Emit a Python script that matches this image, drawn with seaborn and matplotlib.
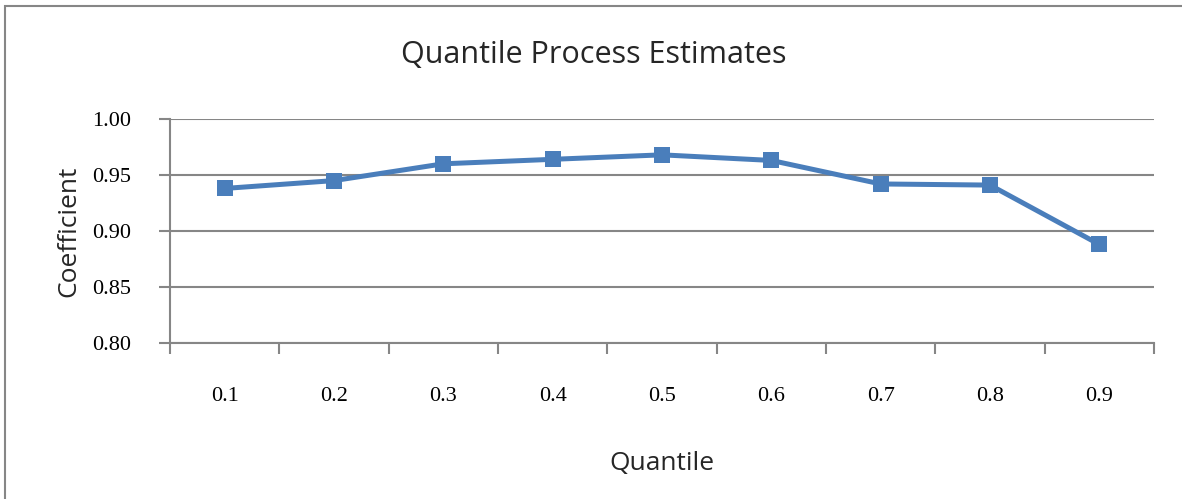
import pandas as pd
import seaborn as sns
import matplotlib.pyplot as plt
from matplotlib.patches import Rectangle

quantiles = ['0.1', '0.2', '0.3', '0.4', '0.5', '0.6', '0.7', '0.8', '0.9']
coefficients = [0.938, 0.945, 0.960, 0.964, 0.968, 0.963, 0.942, 0.941, 0.888]
y_ticks = [0.80, 0.85, 0.90, 0.95, 1.00]

df = pd.DataFrame({'Quantile': quantiles, 'Coefficient': coefficients})

sns.set_theme(style="white")
grey = '#868686'
blue = '#4A7EBB'

fig = plt.figure(figsize=(11.82, 4.99), dpi=100)
ax = fig.add_axes([170 / 1182, 1 - 343 / 499, 984 / 1182, 224 / 499])

sns.lineplot(data=df, x='Quantile', y='Coefficient', ax=ax, color=blue,
             linewidth=3.6, marker='s', markersize=11, markeredgewidth=0,
             sort=False)

ax.set_xlim(-0.5, len(quantiles) - 0.5)
ax.set_ylim(0.80, 1.00)
ax.set_yticks(y_ticks)
ax.set_yticklabels([f'{v:.2f}' for v in y_ticks])
ax.set_xticks(range(len(quantiles)))
ax.set_xticklabels(quantiles)
ax.set_xticks([i - 0.5 for i in range(len(quantiles) + 1)], minor=True)

ax.grid(axis='y', color=grey, linewidth=1.5)
ax.set_axisbelow(True)
for s in ['top', 'right']:
    ax.spines[s].set_visible(False)
for s in ['left', 'bottom']:
    ax.spines[s].set_color(grey)
    ax.spines[s].set_linewidth(1.5)

serif = ['Liberation Serif', 'DejaVu Serif']
ax.tick_params(axis='x', which='major', length=0, pad=32, labelsize=16)
ax.tick_params(axis='x', which='minor', length=8, width=1.5, color=grey, direction='out', bottom=True)
ax.tick_params(axis='y', which='major', length=8, width=1.5, color=grey, direction='out', left=True, pad=20, labelsize=16)
for lab in ax.get_xticklabels() + ax.get_yticklabels():
    lab.set_family(serif)
    lab.set_color('black')

sans = ['Open Sans', 'DejaVu Sans']
ax.set_xlabel('Quantile', fontsize=19, family=sans, labelpad=32)
ax.set_ylabel('Coefficient', fontsize=19, family=sans, labelpad=8)
fig.text(594 / 1182, 1 - 55 / 499, 'Quantile Process Estimates', ha='center', va='center',
         fontsize=22, family=sans)

fig.patches.append(Rectangle((5 / 1182, -0.05), 1.1, 1 - 6 / 499 + 0.05, transform=fig.transFigure,
                             fill=False, edgecolor=grey, linewidth=1.5))

fig.savefig('out.png', dpi=100)
